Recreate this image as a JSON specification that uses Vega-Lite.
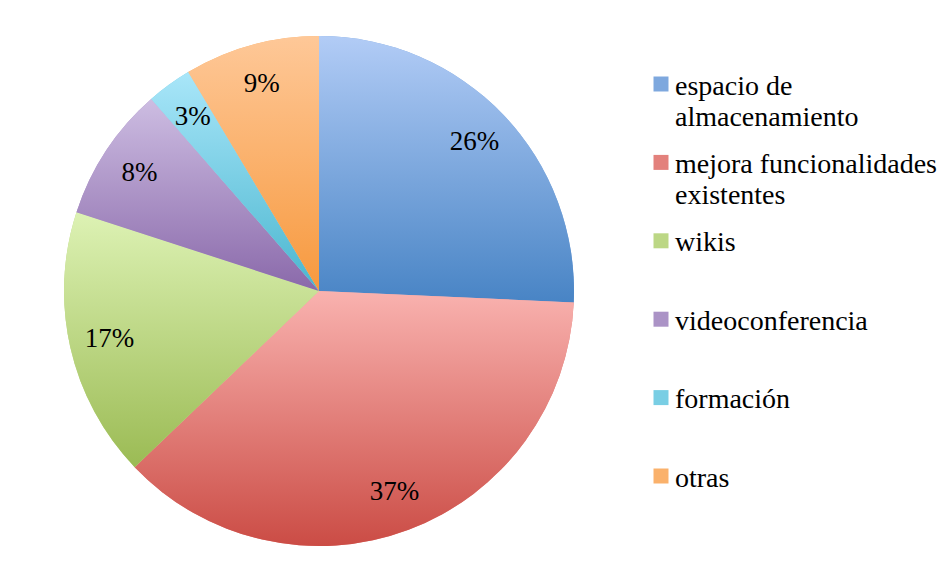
{
  "$schema": "https://vega.github.io/schema/vega-lite/v6.json",
  "width": 638,
  "height": 582,
  "autosize": {"type": "pad"},
  "padding": 0,
  "background": "white",
  "config": {"view": {"stroke": null}, "font": "Liberation Serif", "legend": {"labelFont": "Liberation Serif"}},
  "data": {
    "values": [
      {"categoria": "espacio de almacenamiento", "n": 9, "porcentaje": "26%", "orden": 1},
      {"categoria": "mejora funcionalidades existentes", "n": 13, "porcentaje": "37%", "orden": 2},
      {"categoria": "wikis", "n": 6, "porcentaje": "17%", "orden": 3},
      {"categoria": "videoconferencia", "n": 3, "porcentaje": "8%", "orden": 4},
      {"categoria": "formación", "n": 1, "porcentaje": "3%", "orden": 5},
      {"categoria": "otras", "n": 3, "porcentaje": "9%", "orden": 6}
    ]
  },
  "layer": [
    {
      "mark": {"type": "arc", "outerRadius": 255},
      "encoding": {
        "theta": {"field": "n", "type": "quantitative", "stack": true},
        "order": {"field": "orden", "type": "quantitative"},
        "color": {
          "field": "categoria",
          "type": "nominal",
          "scale": {
            "domain": ["espacio de almacenamiento", "mejora funcionalidades existentes", "wikis", "videoconferencia", "formación", "otras"],
            "range": ["#7ea8de", "#e3817c", "#bcd785", "#ab93c6", "#79cee4", "#fab16b"]
          },
          "legend": {
            "orient": "none",
            "legendX": 647,
            "legendY": 70,
            "title": null,
            "padding": 0,
            "symbolType": "square",
            "symbolSize": 225,
            "symbolStrokeWidth": 0,
            "symbolOpacity": 1,
            "labelFont": "Liberation Serif",
            "labelFontSize": 28,
            "labelColor": "#000000",
            "labelLimit": 400,
            "labelOffset": 0,
            "gridAlign": "all",
            "rowPadding": 16.4,
            "labelBaseline": "alphabetic",
            "labelExpr": "datum.label == 'espacio de almacenamiento' ? ['espacio de', 'almacenamiento'] : datum.label == 'mejora funcionalidades existentes' ? ['mejora funcionalidades', 'existentes'] : datum.label",
            "encode": {"labels": {"update": {"dy": {"value": 10.5}, "lineHeight": {"value": 31}, "font": {"value": "Liberation Serif"}, "fontSize": {"value": 28}, "fill": {"value": "#000000"}}}}
          }
        }
      }
    },
    {
      "mark": {"type": "arc", "outerRadius": 255},
      "encoding": {
        "theta": {"field": "n", "type": "quantitative", "stack": true},
        "order": {"field": "orden", "type": "quantitative"},
        "fill": {
          "condition": [
            {"test": "datum.categoria == 'espacio de almacenamiento'", "value": {"gradient": "linear", "x1": 0, "y1": 0, "x2": 0, "y2": 1, "stops": [{"offset": 0, "color": "#b2ccf6"}, {"offset": 1, "color": "#4884c5"}]}},
            {"test": "datum.categoria == 'mejora funcionalidades existentes'", "value": {"gradient": "linear", "x1": 0, "y1": 0, "x2": 0, "y2": 1, "stops": [{"offset": 0, "color": "#f9b2af"}, {"offset": 1, "color": "#cb4c45"}]}},
            {"test": "datum.categoria == 'wikis'", "value": {"gradient": "linear", "x1": 0, "y1": 0, "x2": 0, "y2": 1, "stops": [{"offset": 0, "color": "#ddf2b4"}, {"offset": 1, "color": "#9bbb54"}]}},
            {"test": "datum.categoria == 'videoconferencia'", "value": {"gradient": "linear", "x1": 0, "y1": 0, "x2": 0, "y2": 1, "stops": [{"offset": 0, "color": "#cdbde2"}, {"offset": 1, "color": "#8a69aa"}]}},
            {"test": "datum.categoria == 'formación'", "value": {"gradient": "linear", "x1": 0, "y1": 0, "x2": 0, "y2": 1, "stops": [{"offset": 0, "color": "#a9e6f9"}, {"offset": 1, "color": "#4ab6cf"}]}}
          ],
          "value": {"gradient": "linear", "x1": 0, "y1": 0, "x2": 0, "y2": 1, "stops": [{"offset": 0, "color": "#fec898"}, {"offset": 1, "color": "#f7993e"}]}
        }
      }
    },
    {
      "mark": {"type": "text", "radius": 215, "font": "Liberation Serif", "fontSize": 27, "color": "#000000"},
      "encoding": {
        "theta": {"field": "n", "type": "quantitative", "stack": true},
        "order": {"field": "orden", "type": "quantitative"},
        "text": {"field": "porcentaje"}
      }
    }
  ]
}
